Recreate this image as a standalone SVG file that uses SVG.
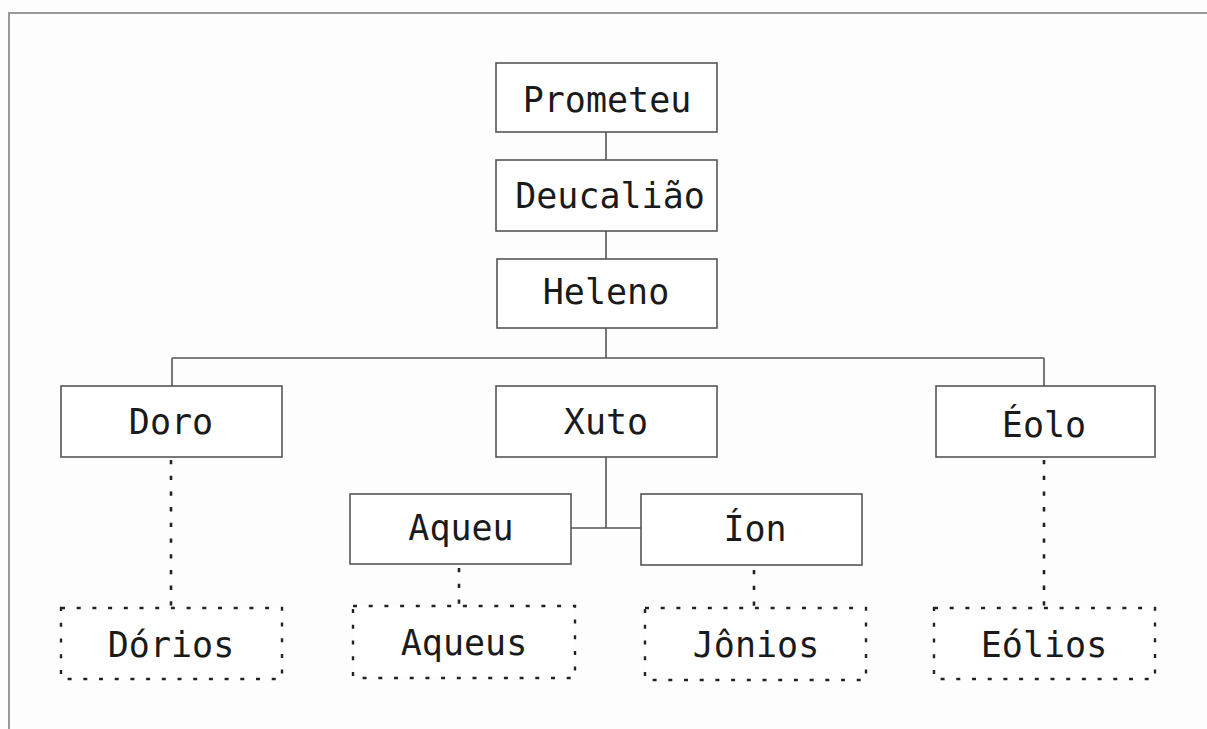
<svg xmlns="http://www.w3.org/2000/svg" width="1207" height="729" viewBox="0 0 1207 729">
<style>
.bg{fill:#fdfdfd}
.frame{fill:none;stroke:#999;stroke-width:2}
.box{fill:#fff;stroke:#555;stroke-width:1.6}
.dbox{fill:#fff;stroke:#222;stroke-width:2.4;stroke-dasharray:4 11.7}
.line{fill:none;stroke:#555;stroke-width:1.6}
.dline{fill:none;stroke:#222;stroke-width:2.6;stroke-dasharray:4.3 11.4}
text{font-family:"DejaVu Sans Mono",monospace;font-size:35px;fill:#1a1a1a;text-anchor:middle}
</style>
<rect class="bg" x="0" y="0" width="1207" height="729"/>
<path class="frame" d="M9,729 V13 H1207"/>
<g id="connectors">
<path class="line" d="M606,132 V160 M606,231 V259 M606,328 V358 M172,358 H1044 M172,358 V386 M1044,358 V386 M606,457 V528 M571,528 H641"/>
<path class="dline" d="M171,460 V608 M459,568 V606 M754,570 V608 M1044,460 V608"/>
</g>
<g id="prometeu"><rect class="box" x="496" y="63" width="221" height="69"/><text x="607" y="112">Prometeu</text></g>
<g id="deucaliao"><rect class="box" x="496" y="160" width="221" height="71"/><text x="610" y="208">Deucalião</text></g>
<g id="heleno"><rect class="box" x="497" y="259" width="220" height="69"/><text x="606" y="304">Heleno</text></g>
<g id="doro"><rect class="box" x="61" y="386" width="221" height="71"/><text x="171" y="434">Doro</text></g>
<g id="xuto"><rect class="box" x="496" y="386" width="221" height="71"/><text x="606" y="434">Xuto</text></g>
<g id="eolo"><rect class="box" x="936" y="386" width="219" height="71"/><text x="1044" y="437">Éolo</text></g>
<g id="aqueu"><rect class="box" x="350" y="494" width="221" height="70"/><text x="461" y="540">Aqueu</text></g>
<g id="ion"><rect class="box" x="641" y="494" width="221" height="71"/><text x="755" y="541">Íon</text></g>
<g id="dorios"><rect class="dbox" x="61" y="608" width="221" height="71"/><text x="171" y="657">Dórios</text></g>
<g id="aqueus"><rect class="dbox" x="353" y="606" width="222" height="72"/><text x="464" y="655">Aqueus</text></g>
<g id="jonios"><rect class="dbox" x="645" y="608" width="221" height="72"/><text x="756" y="657">Jônios</text></g>
<g id="eolios"><rect class="dbox" x="934" y="608" width="221" height="71"/><text x="1044" y="657">Eólios</text></g>
</svg>
